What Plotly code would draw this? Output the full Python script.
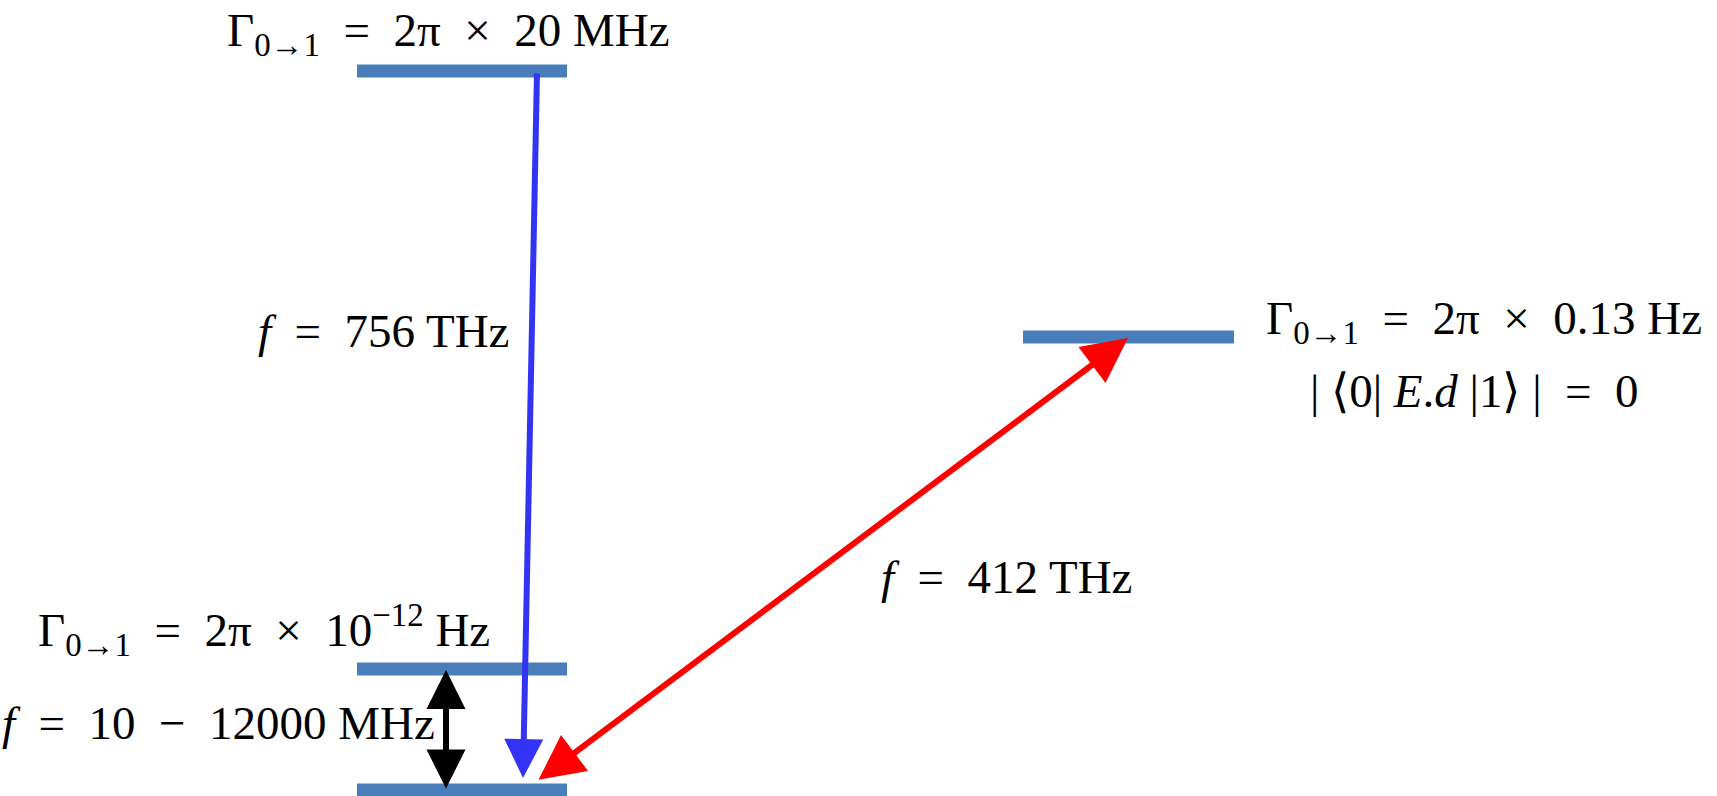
import plotly.graph_objects as go

# Energy levels (horizontal bars): start x, end x, height on the diagram
level_x0 = [357, 1023, 357, 357]
level_x1 = [567, 1234, 567, 567]
level_y = [71, 337, 669, 790]

# Transitions: tail (x, y) -> head (x, y)
blue_tail = (537, 72)
blue_head = (523, 778)
red_ends = [(1128, 338), (537, 781)]
black_ends = [(446, 670), (446, 790)]

SP = "\u2002"  # wider space around operators
# Labels
rate_labels = [
    f"Γ<sub>0→1</sub>{SP}={SP}2π{SP}×{SP}20 MHz",
    f"Γ<sub>0→1</sub>{SP}={SP}2π{SP}×{SP}0.13 Hz",
    f"Γ<sub>0→1</sub>{SP}={SP}2π{SP}×{SP}10<sup>−12</sup> Hz",
]
dipole_label = f"| ⟨0| <i>E</i>.<i>d</i> |1⟩ |{SP}={SP}0"
freq_labels = [
    f"<i>f</i>{SP}={SP}756 THz",
    f"<i>f</i>{SP}={SP}412 THz",
    f"<i>f</i>{SP}={SP}10{SP}−{SP}12000 MHz",
]

LEVEL_COLOR = "#4A7EBB"
FONT = dict(family="Liberation Serif", size=47, color="black")

fig = go.Figure()

for x0, x1, y in zip(level_x0, level_x1, level_y):
    fig.add_trace(go.Scatter(
        x=[x0, x1], y=[y, y], mode="lines",
        line=dict(color=LEVEL_COLOR, width=13),
        hoverinfo="skip", showlegend=False,
    ))

# blue decay arrow
fig.add_annotation(
    x=blue_head[0], y=blue_head[1], ax=blue_tail[0], ay=blue_tail[1],
    xref="x", yref="y", axref="x", ayref="y", text="",
    showarrow=True, arrowhead=2, arrowsize=1.3, arrowwidth=6,
    arrowcolor="#3333F5", standoff=0,
)
# red double arrow
fig.add_annotation(
    x=red_ends[0][0], y=red_ends[0][1], ax=red_ends[1][0], ay=red_ends[1][1],
    xref="x", yref="y", axref="x", ayref="y", text="",
    showarrow=True, arrowhead=2, startarrowhead=2, arrowside="end+start",
    arrowsize=1.5, startarrowsize=1.5, arrowwidth=6,
    arrowcolor="#FF0000", standoff=0, startstandoff=0,
)
# black double arrow
fig.add_annotation(
    x=black_ends[0][0], y=black_ends[0][1], ax=black_ends[1][0], ay=black_ends[1][1],
    xref="x", yref="y", axref="x", ayref="y", text="",
    showarrow=True, arrowhead=2, startarrowhead=2, arrowside="end+start",
    arrowsize=1.3, startarrowsize=1.3, arrowwidth=6,
    arrowcolor="#000000", standoff=0, startstandoff=0,
)

texts = [
    (rate_labels[0], 448, 33, "center"),
    (rate_labels[1], 1484, 321, "center"),
    (dipole_label, 1474, 391, "center"),
    (rate_labels[2], 264, 630, "center"),
    (freq_labels[0], 511, 331, "right"),
    (freq_labels[1], 1006, 577, "center"),
    (freq_labels[2], 0, 723, "left"),
]
for t, x, y, anchor in texts:
    fig.add_annotation(
        x=x, y=y, xref="x", yref="y", text=t, showarrow=False,
        xanchor=anchor, yanchor="middle", font=FONT,
    )

fig.update_xaxes(range=[0, 1717], visible=False, fixedrange=True)
fig.update_yaxes(range=[796, 0], visible=False, fixedrange=True)
fig.update_layout(
    width=1717, height=796,
    margin=dict(l=0, r=0, t=0, b=0),
    paper_bgcolor="white", plot_bgcolor="white",
    showlegend=False,
)

fig.write_html("out.html", config={"displayModeBar": False})
